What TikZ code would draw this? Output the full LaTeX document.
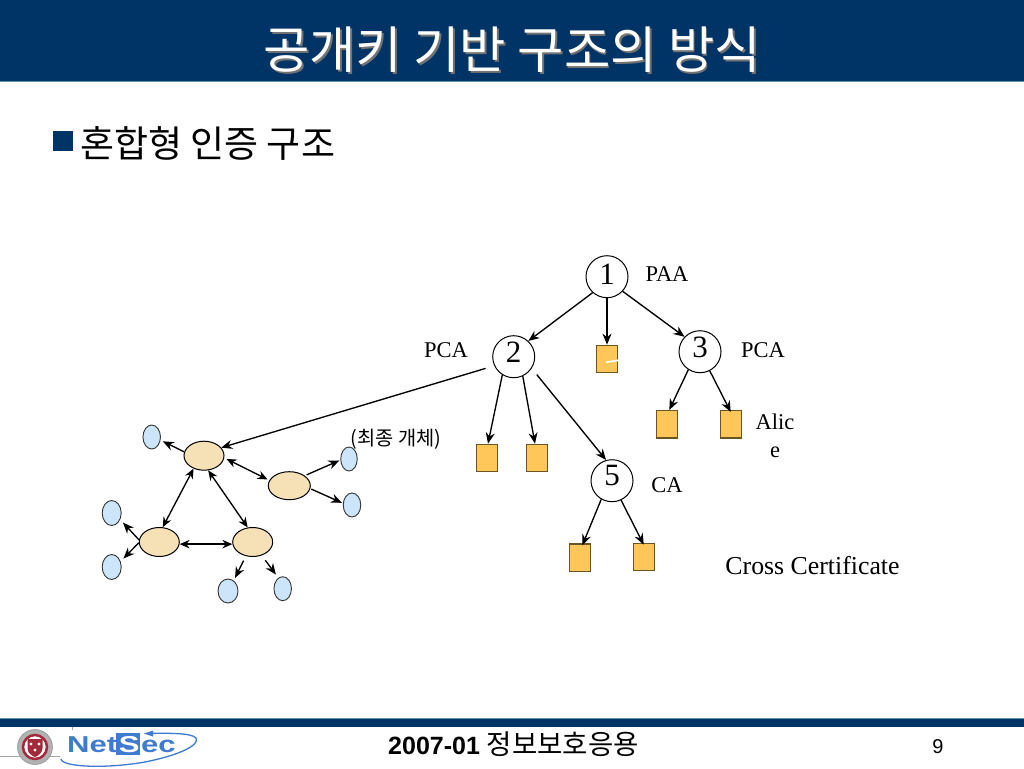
\documentclass[tikz,border=0pt]{standalone}
\usepackage{fontspec}
\usetikzlibrary{arrows.meta,shapes.geometric}
\setmainfont{Liberation Serif}
\newfontfamily\krfont{Noto Sans CJK KR}
\newfontfamily\arialfont{Liberation Sans}
\newcommand{\fsz}[1]{\fontsize{#1}{#1}\selectfont}
\definecolor{navy}{HTML}{003366}
\definecolor{bandedge}{HTML}{5B93BE}
\definecolor{tanfill}{HTML}{F6E0B5}
\definecolor{bluefill}{HTML}{CCE5FA}
\definecolor{boxfill}{HTML}{FFC65A}
\definecolor{boxedge}{HTML}{6B5423}
\definecolor{logoblue}{HTML}{3F7BD0}
\definecolor{sealred}{HTML}{A32A3A}
\tikzset{
  treecirc/.style={circle,draw=black,fill=white,line width=1pt,minimum size=42pt,inner sep=0pt,font=\fsz{31},text height=20.9pt},
  leafbox/.style={rectangle,draw=boxedge,fill=boxfill,line width=1.2pt,minimum width=21pt,minimum height=27.5pt,inner sep=0pt},
  tanell/.style={ellipse,draw=black,fill=tanfill,line width=1pt,inner sep=0pt,minimum width=40pt,minimum height=29pt},
  blueell/.style={ellipse,draw=black!80,fill=bluefill,line width=0.9pt,inner sep=0pt,minimum width=17.5pt,minimum height=24pt},
  lab/.style={inner sep=0pt,font=\fsz{22.5}},
  conn/.style={line width=1.35pt,draw=black,-{Stealth[length=11pt,width=9pt]}},
  biconn/.style={line width=1.35pt,draw=black,{Stealth[length=10pt,width=8.5pt]}-{Stealth[length=10pt,width=8.5pt]}}
}
\begin{document}
\begin{tikzpicture}[x=1pt,y=-1pt]
\useasboundingbox (0,0) rectangle (1024,768);
\fill[white] (0,0) rectangle (1024,768);
% header
\fill[navy] (0,0) rectangle (1024,80.5);
\fill[bandedge] (0,80.5) rectangle (1024,82);
\node[inner sep=0pt,text=white] (title) at (512,50.5)
  {\krfont\fsz{50.4}\rlap{\kern2pt\raisebox{-2pt}{\textcolor{black!55}{공개키 기반 구조의 방식}}}공개키 기반 구조의 방식};
% bullet line
\node[rectangle,fill=navy,minimum size=20pt,inner sep=0pt] (bullet) at (62.5,141) {};
\node[inner sep=0pt,anchor=west] (heading) at (80,143) {\krfont\fsz{37}혼합형 인증 구조};
% tree
\node[treecirc,text depth=5.4pt] (n1) at (607,276.7) {1};
\node[treecirc,text depth=8.8pt] (n2) at (513.7,356.7) {2};
\node[treecirc,text depth=9.4pt] (n3) at (700,351.7) {3};
\node[treecirc,text depth=11.4pt] (n5) at (612,480.7) {5};
\node[leafbox] (rm) at (607,359) {};
\node[leafbox] (r1) at (486.7,458) {};
\node[leafbox] (r2) at (536.7,458) {};
\node[leafbox] (r3) at (666.7,424.3) {};
\node[leafbox] (r4) at (730.7,424.3) {};
\node[leafbox] (r5) at (579.7,557.7) {};
\node[leafbox] (r6) at (643.7,557) {};
\draw[white,line width=1.8pt] (606,362.3) -- (618,360.3);
\draw[conn] (n1.228) -- (n2.47);
\draw[conn] (n1.270) -- (rm.north);
\draw[conn] (n1.-43) -- (n3.136);
\draw[conn] (n2.238) -- ([xshift=1.3pt]r1.north);
\draw[conn] (n2.-65) -- ([xshift=-1.7pt]r2.north);
\draw[conn,shorten <=8pt] (n2.-33) -- (n5.106);
\draw[conn] (n3.237) -- ([xshift=2.6pt]r3.north);
\draw[conn] (n3.-63) -- ([yshift=-2pt]r4.north);
\draw[conn] (n5.240) -- ([xshift=2.6pt,yshift=-2pt]r5.north);
\draw[conn] (n5.-65) -- ([yshift=-2pt]r6.north);
% tree labels
\node[lab] (paa) at (667,274) {PAA};
\node[lab] (pcal) at (446,350) {PCA};
\node[lab] (pcar) at (763,350) {PCA};
\node[lab,align=center] (alice) at (775,436) {Alic\\[5.5pt]e};
\node[lab] (ca) at (667,485) {CA};
\node[inner sep=0pt,font=\fsz{25.8}] (cross) at (812.5,566) {Cross Certificate};
\node[inner sep=0pt] (entity) at (396,439) {\krfont\fsz{19.8}(최종 개체)};
% cluster
\node[tanell] (A) at (204,455.7) {};
\node[tanell,minimum width=42pt,minimum height=28pt] (B) at (289.3,485.7) {};
\node[tanell] (C) at (159.3,542) {};
\node[tanell] (D) at (252.7,542) {};
\node[blueell] (a) at (151.7,437) {};
\node[blueell,minimum width=16.5pt] (b) at (349,459) {};
\node[blueell] (c) at (352,505) {};
\node[blueell,minimum width=19pt,minimum height=25pt] (d) at (111.7,513) {};
\node[blueell,minimum width=19pt,minimum height=25pt] (e) at (111.7,567) {};
\node[blueell,minimum width=20pt] (f) at (228,591) {};
\node[blueell] (g) at (282.7,588.7) {};
\draw[conn] (n2.205) [shorten <=9pt] -- (A.25);
\draw[conn,shorten >=2.5pt] (A.169) -- (a.-20);
\draw[biconn,shorten <=2.5pt,shorten >=2pt] (A.-6.5) -- (B.165);
\draw[biconn] (A.231) -- (C.77);
\draw[biconn] (A.286) -- (D.109);
\draw[biconn] (C.-6) -- (D.186);
\draw[conn,shorten <=2pt,shorten >=1pt] (B.33.5) -- (b.187);
\draw[conn,shorten <=1pt,shorten >=1pt] (B.-8) -- (c.169);
\draw[conn,shorten >=4pt] (C.174) -- (d.-38);
\draw[conn,shorten >=4pt] (C.182) -- (e.32);
\draw[conn,shorten <=5pt,shorten >=3pt] (D.244) -- (f.61);
\draw[conn,shorten <=6pt,shorten >=4pt] (D.-56) -- (g.112);
% footer
\fill[navy] (0,718) rectangle (1024,726.7);
\fill[bandedge] (0,718) rectangle (1024,719);
\draw[black!35,line width=0.5pt] (0,756.5) -- (60,756.5);
\draw[black!35,line width=0.5pt] (72.3,726.7) -- (72.3,730);
\node[circle,fill=black!30,draw=black!45,line width=0.5pt,minimum size=35pt,inner sep=0pt] (sealo) at (35,747) {};
\node[circle,draw=sealred,fill=white,line width=2.5pt,minimum size=24pt,inner sep=0pt] (sealm) at (35,747) {};
\fill[sealred] (27.5,739) -- (42.5,739) -- (42.5,748) .. controls (42.5,753) and (38,756) .. (35,757) .. controls (32,756) and (27.5,753) .. (27.5,748) -- cycle;
\fill[white] (31,744) circle (1.6) (39,744) circle (1.6) (35,750) circle (1.6);
\fill[logoblue] (116,733) rectangle (140,755);
\node[inner sep=0pt,anchor=west] (logo) at (67,745)
  {\arialfont\bfseries\fsz{23}\scalebox{1.35}[1]{\textcolor{logoblue}{Net}\kern1.2pt\textcolor{white}{S}\kern1.2pt\textcolor{logoblue}{ec}}};
\draw[logoblue,line width=1.3pt] (61,759) .. controls (62,767) and (105,769) .. (145,762) .. controls (180,755) and (200,745) .. (196,738) .. controls (192,733) and (170,733) .. (147,733.5);
\fill[logoblue] (144,733.5) -- (153,730.5) -- (153,736.5) -- cycle;
\node[inner sep=0pt,anchor=west] (course) at (388,744)
  {\arialfont\bfseries\fsz{25}2007-01 {\krfont\mdseries\fsz{27.5}정보보호응용}};
\node[inner sep=0pt] (page) at (938,747) {\arialfont\fsz{20}9};
\end{tikzpicture}
\end{document}
